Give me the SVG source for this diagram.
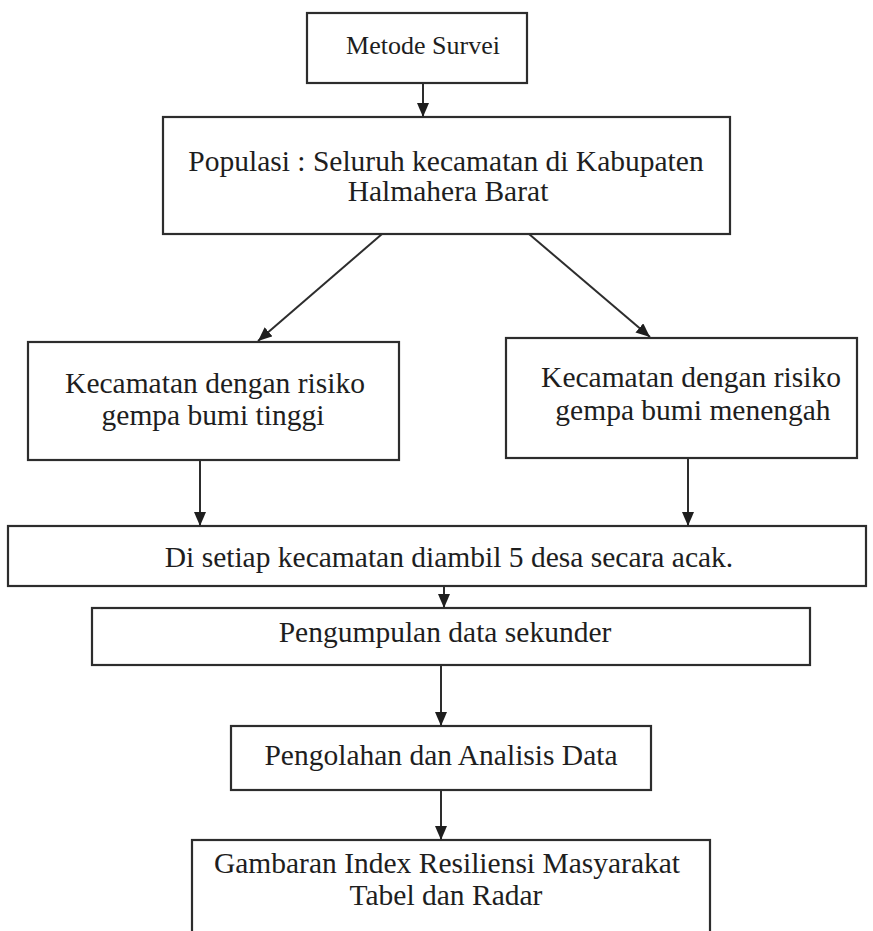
<svg xmlns="http://www.w3.org/2000/svg" width="873" height="931" viewBox="0 0 873 931">
<style>
.box{fill:#fff;stroke:#2d2d2d;stroke-width:2.2}
.t{font-family:"Liberation Serif","Times New Roman",serif;font-size:29.5px;fill:#1e1e1e;text-anchor:middle}
.s{font-size:26px}
.c{stroke:#2d2d2d;stroke-width:2;fill:none;marker-end:url(#ah)}
</style>
<defs>
<marker id="ah" markerWidth="14" markerHeight="12" refX="14" refY="6" orient="auto" markerUnits="userSpaceOnUse" viewBox="0 0 14 12">
<path d="M0,0 L14,6 L0,12 Z" fill="#1e1e1e"/>
</marker>
</defs>
<rect width="873" height="931" fill="#fff"/>
<g id="n1"><rect class="box" x="307" y="13" width="220" height="70"/><text class="t s" x="423" y="54">Metode Survei</text></g>
<g id="n2"><rect class="box" x="163" y="117" width="567" height="117"/><text class="t" x="446" y="171">Populasi : Seluruh kecamatan di Kabupaten</text><text class="t" x="448" y="201">Halmahera Barat</text></g>
<g id="n3"><rect class="box" x="28" y="342" width="371" height="118"/><text class="t" x="215" y="393">Kecamatan dengan risiko</text><text class="t" x="213" y="425">gempa bumi tinggi</text></g>
<g id="n4"><rect class="box" x="506" y="338" width="351" height="120"/><text class="t" x="691" y="387">Kecamatan dengan risiko</text><text class="t" x="693" y="420">gempa bumi menengah</text></g>
<g id="n5"><rect class="box" x="8" y="526" width="858" height="60"/><text class="t" x="449" y="567">Di setiap kecamatan diambil 5 desa secara acak.</text></g>
<g id="n6"><rect class="box" x="92" y="608" width="718" height="57"/><text class="t" x="445" y="642">Pengumpulan data sekunder</text></g>
<g id="n7"><rect class="box" x="231" y="726" width="420" height="64"/><text class="t" x="441" y="765">Pengolahan dan Analisis Data</text></g>
<g id="n8"><rect class="box" x="192" y="840" width="518" height="110"/><text class="t" x="447" y="873">Gambaran Index Resiliensi Masyarakat</text><text class="t" x="446" y="905">Tabel dan Radar</text></g>
<g id="connectors">
<path class="c" d="M423,83 L423,117"/>
<path class="c" d="M382,234 L258,341"/>
<path class="c" d="M529,234 L650,337"/>
<path class="c" d="M200,460 L200,526"/>
<path class="c" d="M688,458 L688,526"/>
<path class="c" d="M444,586 L444,608"/>
<path class="c" d="M441,665 L441,726"/>
<path class="c" d="M441,790 L441,840"/>
</g>
</svg>
